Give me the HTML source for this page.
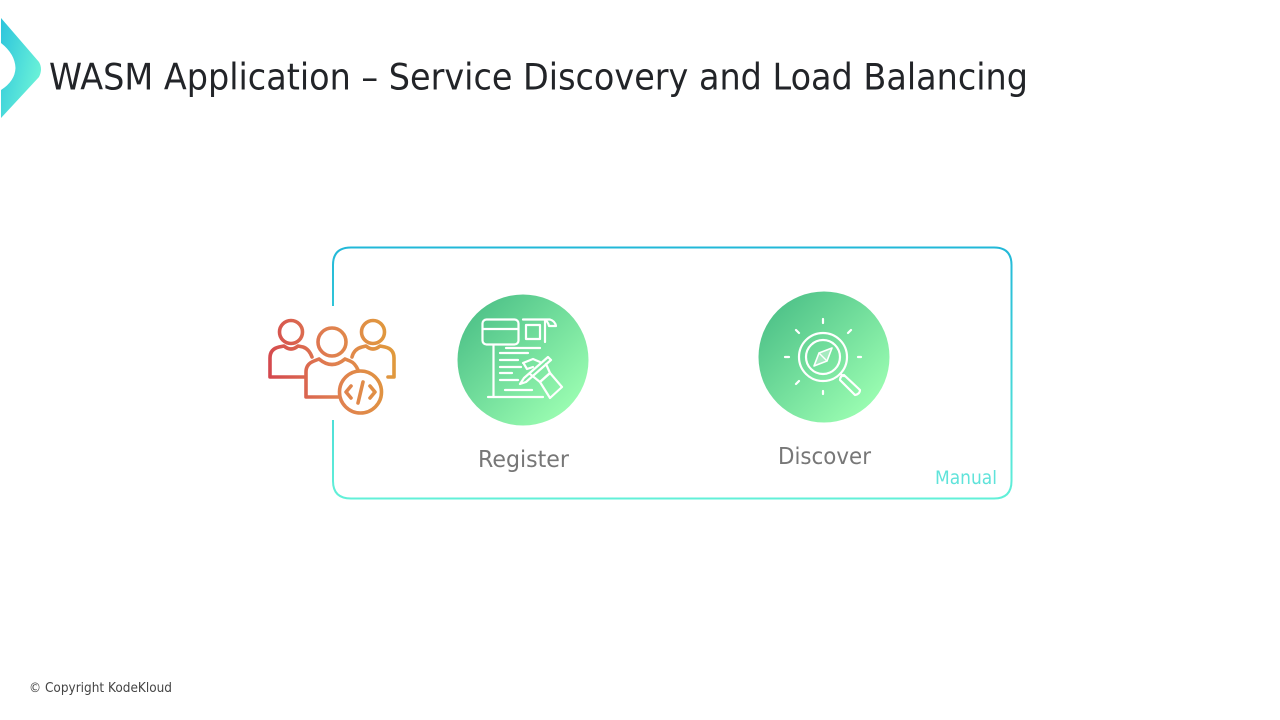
<!DOCTYPE html>
<html lang="en">
<head>
<meta charset="utf-8">
<title>WASM Application – Service Discovery and Load Balancing</title>
<style>
html,body{margin:0;padding:0;background:#fff;width:1280px;height:720px;overflow:hidden}
svg{display:block}
text{font-family:"DejaVu Sans","Liberation Sans",sans-serif}
</style>
</head>
<body>
<svg width="1280" height="720" viewBox="0 0 1280 720" xmlns="http://www.w3.org/2000/svg">
<defs>
<linearGradient id="chev" x1="0" y1="0" x2="1" y2="0.6"><stop offset="0" stop-color="#2cc4dc"/><stop offset="1" stop-color="#6cf3d8"/></linearGradient>
<linearGradient id="box" gradientUnits="userSpaceOnUse" x1="672" y1="247" x2="672" y2="499"><stop offset="0" stop-color="#22b8d8"/><stop offset="1" stop-color="#62f0d8"/></linearGradient>
<linearGradient id="green" x1="0" y1="0" x2="1" y2="1"><stop offset="0.05" stop-color="#48bd85"/><stop offset="0.85" stop-color="#98fbb0"/></linearGradient>
<linearGradient id="people" gradientUnits="userSpaceOnUse" x1="269" y1="370" x2="395" y2="350"><stop offset="0" stop-color="#d4484e"/><stop offset="0.5" stop-color="#e08050"/><stop offset="1" stop-color="#e09a3c"/></linearGradient>
</defs>

<path d="M1 18 L39 62 Q43 69 39 77 L1 118 L1 90 Q15 81 15.500 68 Q15 54 1 43 Z" fill="url(#chev)"/>
<text x="49" y="89.500" font-size="36.500" fill="#222428" textLength="979" lengthAdjust="spacingAndGlyphs">WASM Application – Service Discovery and Load Balancing</text>

<path d="M333 306 V265 Q333 247.500 351 247.500 H994 Q1011.500 247.500 1011.500 265 V481 Q1011.500 498.500 994 498.500 H351 Q333 498.500 333 481 V420" fill="none" stroke="url(#box)" stroke-width="2"/>

<g fill="none" stroke="url(#people)" stroke-width="3.600" stroke-linejoin="round" stroke-linecap="round">
<circle cx="291" cy="332" r="11.500"/>
<circle cx="332" cy="342" r="14"/>
<circle cx="373" cy="332" r="11.500"/>
<path d="M305 377 H270 V358 Q270 349 279 347 L284 346 Q291 352 298 346 L303 347 Q309 349 312 357"/>
<path d="M352 357 Q354 349 362 347 L366 346 Q373 352 380 346 L385 347 Q394 349 394 358 V377 H388"/>
<path d="M339 397 H306 V372 Q306 364 314 361 L319 359 Q332 370 345 359 L350 361 Q355 363 358 370"/>
<circle cx="360.500" cy="392" r="21"/>
<path d="M351 386 L346 392 L351 398 M370 386 L375 392 L370 398 M363 382 L358 403"/>
</g>

<circle cx="523" cy="360" r="65.500" fill="url(#green)"/>
<g fill="none" stroke="#fff" stroke-width="2.200" stroke-linecap="round" stroke-linejoin="round">
<rect x="482.500" y="319.500" width="36" height="25" rx="4"/>
<path d="M483 329 H518"/>
<path d="M523 319.500 H550 Q555 321 556 326 H549 Q548 321 544 319.500"/>
<rect x="526" y="325" width="14" height="14"/>
<path d="M545 320 V342"/>
<path d="M506 348 H540"/>
<path d="M493.500 345 V397"/>
<path d="M488 397 H543"/>
<path d="M500 353 H528 M500 360 H518 M500 367 H521 M500 373 H512 M500 380 H518 M505 390 H532"/>
<path d="M548 357 L524 378 L520 384 L526 382 L551 360 Z"/>
<path d="M523 363 L533 359 L540 362 M524 364 L527 369 L533 367"/>
<path d="M530 374 L540 382 L550 373 L546 364"/>
<path d="M540 382 L550 373 L562 387 L550 398 Z"/>
</g>

<circle cx="824" cy="357" r="65.500" fill="url(#green)"/>
<g fill="none" stroke="#fff" stroke-width="2.200" stroke-linecap="round" stroke-linejoin="round">
<circle cx="823" cy="357" r="24"/>
<circle cx="823" cy="357" r="17"/>
<path d="M832 348 L827 361 L814 366 L819 353 Z" fill="#fff" fill-opacity="0.35" stroke-width="1.600"/>
<path d="M819 353 L827 361" stroke-width="1.400"/>
<path d="M840 374 L844 376 M844 375 L860 390 Q860 394 855 395 L840 380 Q840 376 844 375"/>
<path d="M823 319 V323 M823 391 V394 M785 357 H789 M858 357 H861 M796 330 L799 333 M851 330 L848 333 M796 384 L799 381"/>
</g>

<text x="478" y="467" font-size="23" fill="#777" textLength="91" lengthAdjust="spacingAndGlyphs">Register</text>
<text x="778" y="464" font-size="23" fill="#777" textLength="93" lengthAdjust="spacingAndGlyphs">Discover</text>
<text x="935" y="484" font-size="19" fill="#5fe3da" textLength="62" lengthAdjust="spacingAndGlyphs">Manual</text>
<text x="29" y="692" font-size="13" fill="#444" textLength="143" lengthAdjust="spacingAndGlyphs">© Copyright KodeKloud</text>
</svg>
</body>
</html>
